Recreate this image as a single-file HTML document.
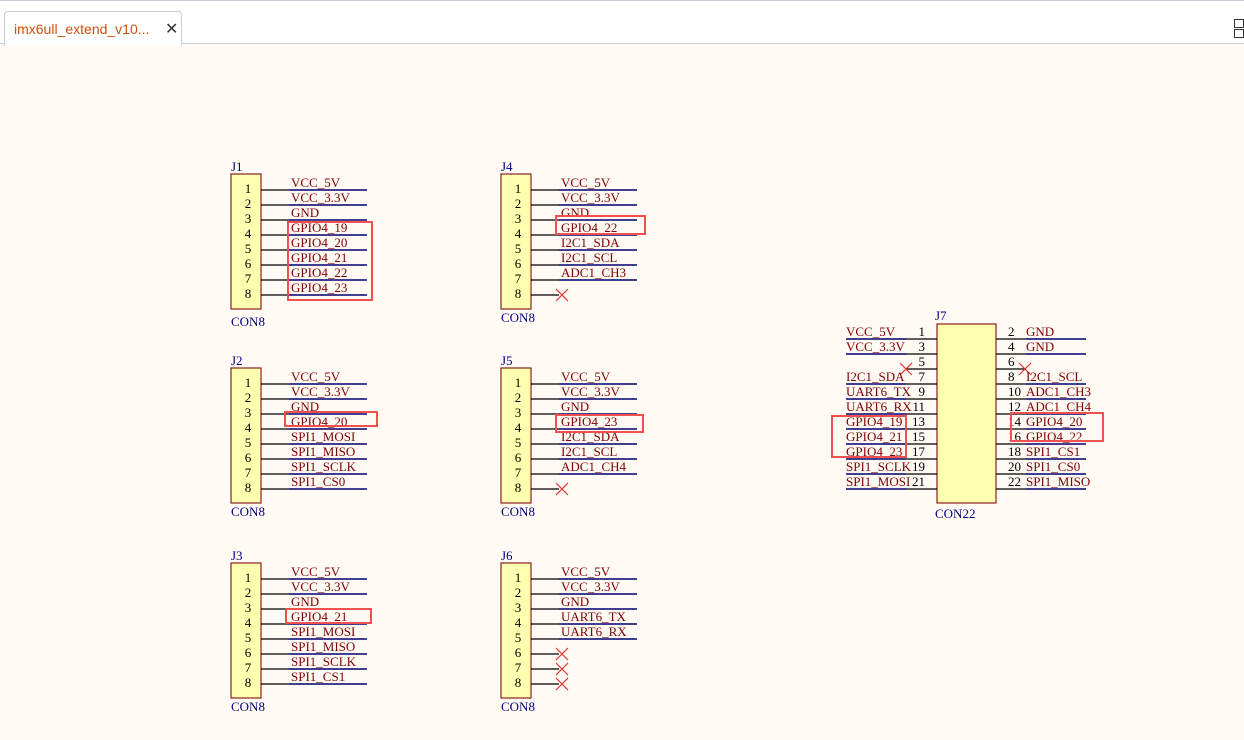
<!DOCTYPE html>
<html><head><meta charset="utf-8"><style>
html,body{margin:0;padding:0;width:1244px;height:740px;overflow:hidden;background:#fffaf4;}
.top{position:absolute;left:0;top:0;width:1244px;height:44px;background:#fff;border-top:1px solid #c8ccd4;border-bottom:1px solid #c8ccd4;box-sizing:border-box;}
.tab{position:absolute;left:4px;top:10px;width:178px;height:35px;background:#fff;border:1px solid #c8ccd4;border-bottom:none;border-radius:4px 4px 0 0;box-sizing:border-box;}
.tab span{position:absolute;left:9px;top:9px;font:14px "Liberation Sans",sans-serif;color:#d0500a;}
.tab b{position:absolute;left:160px;top:7px;font:16px "Liberation Sans",sans-serif;font-weight:normal;color:#333;}
svg{position:absolute;left:0;top:0;}
text{font-family:"Liberation Serif",serif;font-size:13px;}
.l{fill:#800000;}
.n{fill:#000;}
.r{fill:#000080;}
</style></head><body>
<div class="top"><div class="tab"><span>imx6ull_extend_v10...</span><b>✕</b></div>
<div style="position:absolute;left:1234px;top:18px;width:8px;height:7px;border:1.5px solid #333;"></div>
<div style="position:absolute;left:1234px;top:28px;width:8px;height:7px;border:1.5px solid #333;"></div></div>
<svg width="1244" height="740" xmlns="http://www.w3.org/2000/svg">
<defs>
<g id="box8"><rect x="0" y="0" width="30" height="135" fill="#ffffb0" stroke="#8b2020" stroke-width="1.2"/>
<g stroke="#000" stroke-width="1.3"><line x1="30" y1="16" x2="58" y2="16"/><line x1="30" y1="31" x2="58" y2="31"/><line x1="30" y1="46" x2="58" y2="46"/><line x1="30" y1="61" x2="58" y2="61"/><line x1="30" y1="76" x2="58" y2="76"/><line x1="30" y1="91" x2="58" y2="91"/><line x1="30" y1="106" x2="58" y2="106"/><line x1="30" y1="121" x2="58" y2="121"/></g>
<g class="n" text-anchor="middle"><text x="17" y="19">1</text><text x="17" y="34">2</text><text x="17" y="49">3</text><text x="17" y="64">4</text><text x="17" y="79">5</text><text x="17" y="94">6</text><text x="17" y="109">7</text><text x="17" y="124">8</text></g></g>
<g id="nets5"><g stroke="#000070" stroke-width="1.5"><line x1="58" y1="16" x2="136" y2="16"/><line x1="58" y1="31" x2="136" y2="31"/><line x1="58" y1="46" x2="136" y2="46"/><line x1="58" y1="61" x2="136" y2="61"/><line x1="58" y1="76" x2="136" y2="76"/></g></g>
<g id="nets7"><use href="#nets5"/><g stroke="#000070" stroke-width="1.5"><line x1="58" y1="91" x2="136" y2="91"/><line x1="58" y1="106" x2="136" y2="106"/></g></g>
<g id="nets8"><use href="#nets7"/><line x1="58" y1="121" x2="136" y2="121" stroke="#000070" stroke-width="1.5"/></g>
<g id="x"><path d="M-6,-6L6,6M6,-6L-6,6" stroke="#e03030" stroke-width="1.2"/></g>
</defs>

<g transform="translate(231,174)"><use href="#nets8"/><use href="#box8"/>
<text class="r" x="0" y="-3">J1</text><text class="r" x="0" y="152">CON8</text>
<g class="l"><text x="60" y="13">VCC_5V</text><text x="60" y="28">VCC_3.3V</text><text x="60" y="43">GND</text><text x="60" y="58">GPIO4_19</text><text x="60" y="73">GPIO4_20</text><text x="60" y="88">GPIO4_21</text><text x="60" y="103">GPIO4_22</text><text x="60" y="118">GPIO4_23</text></g></g>
<g transform="translate(231,368)"><use href="#nets8"/><use href="#box8"/>
<text class="r" x="0" y="-3">J2</text><text class="r" x="0" y="148">CON8</text>
<g class="l"><text x="60" y="13">VCC_5V</text><text x="60" y="28">VCC_3.3V</text><text x="60" y="43">GND</text><text x="60" y="58">GPIO4_20</text><text x="60" y="73">SPI1_MOSI</text><text x="60" y="88">SPI1_MISO</text><text x="60" y="103">SPI1_SCLK</text><text x="60" y="118">SPI1_CS0</text></g></g>
<g transform="translate(231,563)"><use href="#nets8"/><use href="#box8"/>
<text class="r" x="0" y="-3">J3</text><text class="r" x="0" y="148">CON8</text>
<g class="l"><text x="60" y="13">VCC_5V</text><text x="60" y="28">VCC_3.3V</text><text x="60" y="43">GND</text><text x="60" y="58">GPIO4_21</text><text x="60" y="73">SPI1_MOSI</text><text x="60" y="88">SPI1_MISO</text><text x="60" y="103">SPI1_SCLK</text><text x="60" y="118">SPI1_CS1</text></g></g>
<g transform="translate(501,174)"><use href="#nets7"/><use href="#box8"/><use href="#x" transform="translate(61,121)"/>
<text class="r" x="0" y="-3">J4</text><text class="r" x="0" y="148">CON8</text>
<g class="l"><text x="60" y="13">VCC_5V</text><text x="60" y="28">VCC_3.3V</text><text x="60" y="43">GND</text><text x="60" y="58">GPIO4_22</text><text x="60" y="73">I2C1_SDA</text><text x="60" y="88">I2C1_SCL</text><text x="60" y="103">ADC1_CH3</text></g></g>
<g transform="translate(501,368)"><use href="#nets7"/><use href="#box8"/><use href="#x" transform="translate(61,121)"/>
<text class="r" x="0" y="-3">J5</text><text class="r" x="0" y="148">CON8</text>
<g class="l"><text x="60" y="13">VCC_5V</text><text x="60" y="28">VCC_3.3V</text><text x="60" y="43">GND</text><text x="60" y="58">GPIO4_23</text><text x="60" y="73">I2C1_SDA</text><text x="60" y="88">I2C1_SCL</text><text x="60" y="103">ADC1_CH4</text></g></g>
<g transform="translate(501,563)"><use href="#nets5"/><use href="#box8"/><use href="#x" transform="translate(61,91)"/><use href="#x" transform="translate(61,106)"/><use href="#x" transform="translate(61,121)"/>
<text class="r" x="0" y="-3">J6</text><text class="r" x="0" y="148">CON8</text>
<g class="l"><text x="60" y="13">VCC_5V</text><text x="60" y="28">VCC_3.3V</text><text x="60" y="43">GND</text><text x="60" y="58">UART6_TX</text><text x="60" y="73">UART6_RX</text></g></g>

<rect x="937" y="324" width="59" height="179" fill="#ffffb0" stroke="#8b2020" stroke-width="1.2"/>
<text class="r" x="935" y="320">J7</text><text class="r" x="935" y="518">CON22</text>
<g stroke="#000" stroke-width="1.3">
<line x1="906" y1="339" x2="937" y2="339"/><line x1="906" y1="354" x2="937" y2="354"/><line x1="906" y1="369" x2="937" y2="369"/><line x1="906" y1="384" x2="937" y2="384"/><line x1="906" y1="399" x2="937" y2="399"/><line x1="906" y1="414" x2="937" y2="414"/><line x1="906" y1="429" x2="937" y2="429"/><line x1="906" y1="444" x2="937" y2="444"/><line x1="906" y1="459" x2="937" y2="459"/><line x1="906" y1="474" x2="937" y2="474"/><line x1="906" y1="489" x2="937" y2="489"/>
<line x1="996" y1="339" x2="1026" y2="339"/><line x1="996" y1="354" x2="1026" y2="354"/><line x1="996" y1="369" x2="1026" y2="369"/><line x1="996" y1="384" x2="1026" y2="384"/><line x1="996" y1="399" x2="1026" y2="399"/><line x1="996" y1="414" x2="1026" y2="414"/><line x1="996" y1="429" x2="1026" y2="429"/><line x1="996" y1="444" x2="1026" y2="444"/><line x1="996" y1="459" x2="1026" y2="459"/><line x1="996" y1="474" x2="1026" y2="474"/><line x1="996" y1="489" x2="1026" y2="489"/>
</g>
<g stroke="#000070" stroke-width="1.5">
<line x1="846" y1="339" x2="906" y2="339"/><line x1="846" y1="354" x2="906" y2="354"/><line x1="846" y1="384" x2="906" y2="384"/><line x1="846" y1="399" x2="906" y2="399"/><line x1="846" y1="414" x2="906" y2="414"/><line x1="846" y1="429" x2="906" y2="429"/><line x1="846" y1="444" x2="906" y2="444"/><line x1="846" y1="459" x2="906" y2="459"/><line x1="846" y1="474" x2="906" y2="474"/><line x1="846" y1="489" x2="906" y2="489"/>
<line x1="1026" y1="339" x2="1086" y2="339"/><line x1="1026" y1="354" x2="1086" y2="354"/><line x1="1026" y1="384" x2="1086" y2="384"/><line x1="1026" y1="399" x2="1086" y2="399"/><line x1="1026" y1="414" x2="1086" y2="414"/><line x1="1026" y1="429" x2="1086" y2="429"/><line x1="1026" y1="444" x2="1086" y2="444"/><line x1="1026" y1="459" x2="1086" y2="459"/><line x1="1026" y1="474" x2="1086" y2="474"/><line x1="1026" y1="489" x2="1086" y2="489"/>
</g>
<use href="#x" transform="translate(906,369)"/><use href="#x" transform="translate(1025,369)"/>
<g class="n" text-anchor="end"><text x="925" y="336">1</text><text x="925" y="351">3</text><text x="925" y="366">5</text><text x="925" y="381">7</text><text x="925" y="396">9</text><text x="925" y="411">11</text><text x="925" y="426">13</text><text x="925" y="441">15</text><text x="925" y="456">17</text><text x="925" y="471">19</text><text x="925" y="486">21</text></g>
<g class="n"><text x="1008" y="336">2</text><text x="1008" y="351">4</text><text x="1008" y="366">6</text><text x="1008" y="381">8</text><text x="1008" y="396">10</text><text x="1008" y="411">12</text><text x="1008" y="426">14</text><text x="1008" y="441">16</text><text x="1008" y="456">18</text><text x="1008" y="471">20</text><text x="1008" y="486">22</text></g>
<g class="l"><text x="846" y="336">VCC_5V</text><text x="846" y="351">VCC_3.3V</text><text x="846" y="381">I2C1_SDA</text><text x="846" y="396">UART6_TX</text><text x="846" y="411">UART6_RX</text><text x="846" y="426">GPIO4_19</text><text x="846" y="441">GPIO4_21</text><text x="846" y="456">GPIO4_23</text><text x="846" y="471">SPI1_SCLK</text><text x="846" y="486">SPI1_MOSI</text></g>
<g class="l"><text x="1026" y="336">GND</text><text x="1026" y="351">GND</text><text x="1026" y="381">I2C1_SCL</text><text x="1026" y="396">ADC1_CH3</text><text x="1026" y="411">ADC1_CH4</text><text x="1026" y="426">GPIO4_20</text><text x="1026" y="441">GPIO4_22</text><text x="1026" y="456">SPI1_CS1</text><text x="1026" y="471">SPI1_CS0</text><text x="1026" y="486">SPI1_MISO</text></g>

<g fill="none" stroke="#f05050" stroke-width="2">
<rect x="288" y="222" width="84" height="78"/>
<rect x="285" y="412" width="92" height="14"/>
<rect x="286" y="609" width="85" height="14"/>
<rect x="556" y="216" width="89" height="18"/>
<rect x="556" y="415" width="87" height="17"/>
<rect x="832" y="416" width="74" height="41"/>
<rect x="1011" y="413" width="92" height="28"/>
</g>
</svg>
</body></html>
